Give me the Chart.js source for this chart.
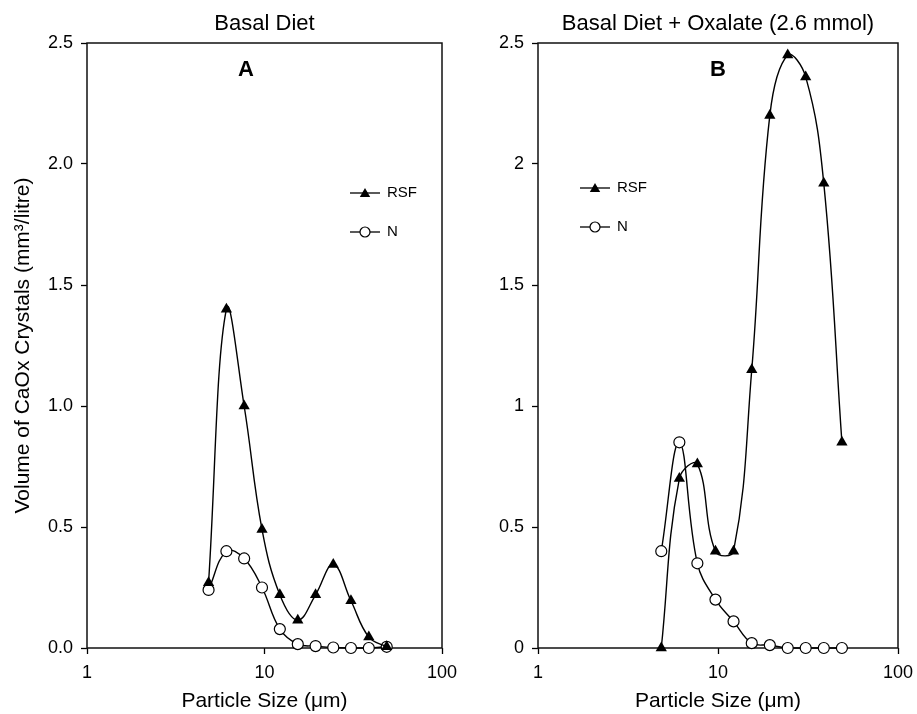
<!DOCTYPE html>
<html>
<head>
<meta charset="utf-8">
<title>CaOx crystal volume vs particle size</title>
<script src="https://cdn.jsdelivr.net/npm/chart.js@4.4.0/dist/chart.umd.min.js"></script>
<style>
  html, body { margin: 0; padding: 0; background: #fff; }
  #wrap { position: relative; width: 917px; height: 714px; }
  canvas { position: absolute; top: 0; }
  #left { left: 0; }
  #right { left: 460px; }
</style>
</head>
<body>
<div id="wrap">
  <canvas id="left" width="460" height="714"></canvas>
  <canvas id="right" width="457" height="714"></canvas>
</div>
<script>
// particle size channels (um)
const particleSizes = [4.84, 6.10, 7.68, 9.68, 12.2, 15.4, 19.4, 24.4, 30.7, 38.7, 48.8];

// panel A - basal diet
const basalRSF = [0.27, 1.40, 1.00, 0.49, 0.22, 0.115, 0.22, 0.345, 0.195, 0.045, 0.005];
const basalN   = [0.24, 0.40, 0.37, 0.25, 0.078, 0.016, 0.008, 0.002, 0.0, 0.0, 0.005];

// panel B - basal diet + oxalate
const oxalateRSF = [0.0, 0.70, 0.76, 0.40, 0.40, 1.15, 2.20, 2.45, 2.36, 1.92, 0.85];
const oxalateN   = [0.40, 0.85, 0.35, 0.20, 0.11, 0.02, 0.012, 0.0, 0.0, 0.0, 0.0];

const xTicks = [1, 10, 100];
const yTicks = [0, 0.5, 1, 1.5, 2, 2.5];

const FONT = '"Liberation Sans", Arial, Helvetica, sans-serif';

function drawTriangle(ctx, x, y, r) {
  ctx.beginPath();
  ctx.moveTo(x, y - r);
  ctx.lineTo(x + r * 0.866, y + r * 0.5);
  ctx.lineTo(x - r * 0.866, y + r * 0.5);
  ctx.closePath();
  ctx.fillStyle = '#000';
  ctx.fill();
}

function drawCircle(ctx, x, y, r) {
  ctx.beginPath();
  ctx.arc(x, y, r, 0, Math.PI * 2);
  ctx.fillStyle = '#fff';
  ctx.fill();
  ctx.lineWidth = 1.2;
  ctx.strokeStyle = '#000';
  ctx.stroke();
}

// box round the plot area, panel title, letter and the little legend
function panelPlugin(title, letter, letterX, legX, legY) {
  return {
    id: 'panel',
    beforeDatasetsDraw(chart) {
      const { ctx, chartArea: a } = chart;
      ctx.save();
      ctx.lineWidth = 1.5;
      ctx.strokeStyle = '#111';
      ctx.strokeRect(a.left, a.top, a.right - a.left, a.bottom - a.top);
      ctx.restore();
    },
    afterDraw(chart) {
      const { ctx, chartArea: a } = chart;
      ctx.save();
      ctx.fillStyle = '#000';
      ctx.textAlign = 'center';
      ctx.textBaseline = 'middle';
      ctx.font = '22px ' + FONT;
      ctx.fillText(title, (a.left + a.right) / 2, 24);

      ctx.font = 'bold 22px ' + FONT;
      ctx.fillText(letter, letterX, 70);

      const rows = [['RSF', 'tri'], ['N', 'circ']];
      rows.forEach((row, i) => {
        const y = legY + i * 39;
        ctx.beginPath();
        ctx.moveTo(legX, y);
        ctx.lineTo(legX + 30, y);
        ctx.lineWidth = 1.3;
        ctx.strokeStyle = '#000';
        ctx.stroke();
        if (row[1] === 'tri') drawTriangle(ctx, legX + 15, y + 1, 6);
        else drawCircle(ctx, legX + 15, y, 5);
        ctx.fillStyle = '#000';
        ctx.font = '15px ' + FONT;
        ctx.textAlign = 'left';
        ctx.textBaseline = 'middle';
        ctx.fillText(row[0], legX + 37, y);
      });
      ctx.restore();
    }
  };
}

function makePanel(id, opts) {
  const pts = arr => particleSizes.map((x, i) => ({ x: x, y: arr[i] }));
  return new Chart(document.getElementById(id), {
    type: 'line',
    data: {
      datasets: [
        {
          label: 'RSF',
          data: pts(opts.rsf),
          borderColor: '#000',
          borderWidth: 1.4,
          backgroundColor: '#000',
          pointStyle: 'triangle',
          pointRadius: 6.5,
          pointBorderWidth: 0,
          pointBackgroundColor: '#000',
          tension: 0.4,
          clip: false
        },
        {
          label: 'N',
          data: pts(opts.n),
          borderColor: '#000',
          borderWidth: 1.4,
          pointStyle: 'circle',
          pointRadius: 5.5,
          pointBorderWidth: 1.2,
          pointBorderColor: '#000',
          pointBackgroundColor: '#fff',
          tension: 0.4,
          clip: false
        }
      ]
    },
    options: {
      responsive: false,
      animation: false,
      layout: { padding: { left: 0, right: opts.padRight, top: 43, bottom: 0 } },
      plugins: {
        legend: { display: false },
        tooltip: { enabled: false },
        title: { display: false }
      },
      scales: {
        x: {
          type: 'logarithmic',
          min: 1,
          max: 100,
          afterBuildTicks: s => { s.ticks = xTicks.map(v => ({ value: v })); },
          afterFit: s => {
            s.height = 66;
            s.paddingLeft = 0;
            s.paddingRight = 0;
          },
          ticks: {
            color: '#000',
            font: { family: FONT, size: 18 },
            padding: 8,
            maxRotation: 0,
            autoSkip: false,
            callback: v => String(v)
          },
          grid: { drawOnChartArea: false, drawTicks: true, tickLength: 6, tickColor: '#000', tickWidth: 1.3 },
          border: { display: false },
          title: {
            display: true,
            text: 'Particle Size (\u03bcm)',
            color: '#000',
            font: { family: FONT, size: 21 },
            padding: { top: 0, bottom: 0 }
          }
        },
        y: {
          min: 0,
          max: 2.5,
          afterBuildTicks: s => { s.ticks = yTicks.map(v => ({ value: v })); },
          afterFit: s => {
            s.width = opts.yWidth;
            s.paddingTop = 0;
            s.paddingBottom = 0;
          },
          ticks: {
            color: '#000',
            font: { family: FONT, size: 18 },
            padding: 8,
            callback: opts.yFormat
          },
          grid: { drawOnChartArea: false, drawTicks: true, tickLength: 6, tickColor: '#000', tickWidth: 1.3 },
          border: { display: false },
          title: {
            display: opts.yTitle !== '',
            text: opts.yTitle,
            color: '#000',
            font: { family: FONT, size: 21 },
            padding: { top: 11, bottom: 0 }
          }
        }
      }
    },
    plugins: [panelPlugin(opts.title, opts.letter, opts.letterX, opts.legX, opts.legY)]
  });
}

makePanel('left', {
  rsf: basalRSF,
  n: basalN,
  title: 'Basal Diet',
  letter: 'A',
  letterX: 246,
  legX: 350,
  legY: 193,
  yWidth: 87,
  padRight: 18,
  yTitle: 'Volume of CaOx Crystals (mm\u00b3/litre)',
  yFormat: v => v.toFixed(1)
});

makePanel('right', {
  rsf: oxalateRSF,
  n: oxalateN,
  title: 'Basal Diet + Oxalate (2.6 mmol)',
  letter: 'B',
  letterX: 258,
  legX: 120,
  legY: 188,
  yWidth: 78,
  padRight: 19,
  yTitle: '',
  yFormat: v => String(v)
});
</script>
</body>
</html>
